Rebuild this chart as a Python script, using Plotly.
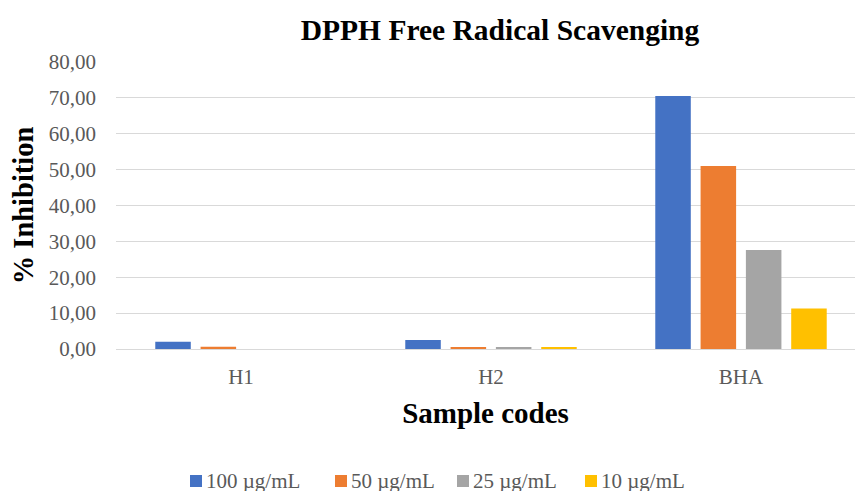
import plotly.graph_objects as go

categories = ["H1", "H2", "BHA"]
series_names = ["100 µg/mL", "50 µg/mL", "25 µg/mL", "10 µg/mL"]
v100 = [2.0, 2.5, 70.5]
v50 = [0.6, 0.35, 51.0]
v25 = [0.0, 0.35, 27.6]
v10 = [0.0, 0.35, 11.3]
series_values = [v100, v50, v25, v10]
colors = ["#4472C4", "#ED7D31", "#A5A5A5", "#FFC000"]
y_ticks = [0, 10, 20, 30, 40, 50, 60, 70, 80]

FONT = "Liberation Serif, Times New Roman, serif"
W, H = 855, 491
L, R, T, B = 116, 0, 62, 142
PW, PH = W - L - R, H - T - B
CAT_PX = 250  # pixel width of one category slot

fig = go.Figure()
for name, vals, c in zip(series_names, series_values, colors):
    fig.add_trace(go.Bar(x=categories, y=vals, name=name, marker_color=c,
                         marker_line_width=0, showlegend=False))

# custom legend (Excel style: small square close to text)
legend_left_px = [190, 335, 457, 585]
legend_y_px = 481
for name, c, lx in zip(series_names, colors, legend_left_px):
    yc = (T + PH - legend_y_px) / PH
    fig.add_shape(type="rect", xref="paper", yref="paper",
                  x0=(lx - L) / PW, x1=(lx + 12 - L) / PW,
                  y0=yc - 6 / PH, y1=yc + 6 / PH,
                  fillcolor=c, line_width=0)
    fig.add_annotation(xref="paper", yref="paper", x=(lx + 14 - L) / PW, y=yc,
                       xanchor="left", yanchor="middle", showarrow=False,
                       text=name, font=dict(size=21, color="#595959", family=FONT))

fig.update_layout(
    width=W, height=H,
    paper_bgcolor="white", plot_bgcolor="white",
    margin=dict(l=L, r=R, t=T, b=B, autoexpand=False),
    barmode="group", bargap=0.275, bargroupgap=0.216,
    separators=",.",
    font=dict(family=FONT, color="#595959"),
    title=dict(text="<b>DPPH Free Radical Scavenging</b>", xref="container", x=500 / W,
               xanchor="center", yref="container", y=1 - 30 / H, yanchor="middle",
               font=dict(size=29.5, color="black", family=FONT)),
    showlegend=False,
)
fig.update_yaxes(range=[0, 80], tickvals=y_ticks, tickformat=".2f", automargin=False,
                 showgrid=True, gridcolor="#D9D9D9", gridwidth=1.3,
                 zeroline=False, showline=False, ticks="", ticklabelstandoff=19,
                 tickfont=dict(size=21, color="#595959", family=FONT),
                 title=dict(text="<b>% Inhibition</b>", standoff=6,
                            font=dict(size=28.5, color="black", family=FONT)))
fig.update_xaxes(range=[-0.5, -0.5 + PW / CAT_PX],
                 showline=True, linecolor="#D9D9D9", linewidth=1.3, ticks="",
                 automargin=False, ticklabelstandoff=9,
                 tickfont=dict(size=21, color="#595959", family=FONT),
                 title=dict(text="<b>Sample codes</b>", standoff=14,
                            font=dict(size=29, color="black", family=FONT)))

fig.write_html("out.html", config={"displayModeBar": False},
               post_script="document.body.style.margin='0';")
